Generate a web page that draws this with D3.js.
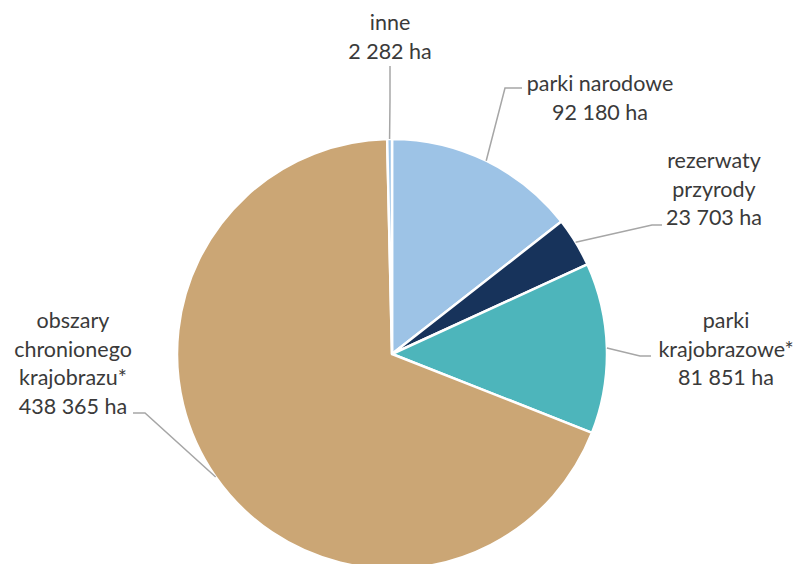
<!DOCTYPE html>
<html>
<head>
<meta charset="utf-8">
<script src="https://cdn.jsdelivr.net/npm/d3@7"></script>
<style>
  body { margin: 0; background: #fff; }
  text { font-family: Lato, "Noto Sans", sans-serif; }
</style>
</head>
<body>
<div id="chart"></div>
<script>
// categories and values (ha)
const categories = ["parki narodowe", "rezerwaty przyrody", "parki krajobrazowe*", "obszary chronionego krajobrazu*", "inne"];
const values = [92180, 23703, 81851, 438365, 2282];
const valueLabels = ["92 180 ha", "23 703 ha", "81 851 ha", "438 365 ha", "2 282 ha"];
// how the category names wrap in the labels
const labelLines = [
    ["parki narodowe"],
    ["rezerwaty", "przyrody"],
    ["parki", "krajobrazowe*"],
    ["obszary", "chronionego", "krajobrazu*"],
    ["inne"]
];
const colors = ["#9DC3E6", "#17335B", "#4DB5BB", "#CBA675", "#9DC3E6"];

const width = 799, height = 564;
const cx = 392, cy = 354, radius = 215;

// label placement (elbow of leader line, end of line, text centre x, first baseline)
const labelLayout = [
    {elbow: [505, 88], end: [522, 88], tx: 600, ty: 91},
    {elbow: [652, 225], end: [662, 225], tx: 714, ty: 168},
    {elbow: [640, 356], end: [651, 356], tx: 726, ty: 328},
    {elbow: [145, 413], end: [133, 413], tx: 73, ty: 328},
    {elbow: [390, 100], end: [390, 66], tx: 390, ty: 30}
];

const svg = d3.select("#chart")
    .append("svg")
    .attr("width", width)
    .attr("height", height);

const g = svg.append("g")
    .attr("transform", "translate(" + cx + "," + cy + ")");

const pie = d3.pie().sort(null).value(d => d);
const arcs = pie(values);

const arc = d3.arc().innerRadius(0).outerRadius(radius);

g.selectAll("path.slice")
    .data(arcs)
    .enter().append("path")
    .attr("class", "slice")
    .attr("d", arc)
    .attr("fill", (d, i) => colors[i])
    .attr("stroke", "#fff")
    .attr("stroke-width", 2.5)
    .attr("stroke-linejoin", "round");

// leader lines start on the outer edge at the middle of each slice
const edgePoint = function(d) {
    const a = (d.startAngle + d.endAngle) / 2;
    return [cx + radius * Math.sin(a), cy - radius * Math.cos(a)];
};

svg.selectAll("polyline.leader")
    .data(arcs)
    .enter().append("polyline")
    .attr("class", "leader")
    .attr("points", (d, i) => {
        const p = edgePoint(d);
        const L = labelLayout[i];
        return [p, L.elbow, L.end].map(q => q.join(",")).join(" ");
    })
    .attr("fill", "none")
    .attr("stroke", "#A6A6A6")
    .attr("stroke-width", 1.5);

const lineH = 28.5;
const labels = svg.selectAll("text.label")
    .data(arcs)
    .enter().append("text")
    .attr("class", "label")
    .attr("text-anchor", "middle")
    .attr("font-size", "21.5px")
    .attr("fill", "#3A3A3A");

labels.each(function(d, i) {
    const t = d3.select(this);
    const lines = labelLines[i].concat([valueLabels[i]]);
    lines.forEach((s, k) => {
        t.append("tspan")
            .attr("x", labelLayout[i].tx)
            .attr("y", labelLayout[i].ty + k * lineH)
            .text(s);
    });
});
</script>
</body>
</html>
